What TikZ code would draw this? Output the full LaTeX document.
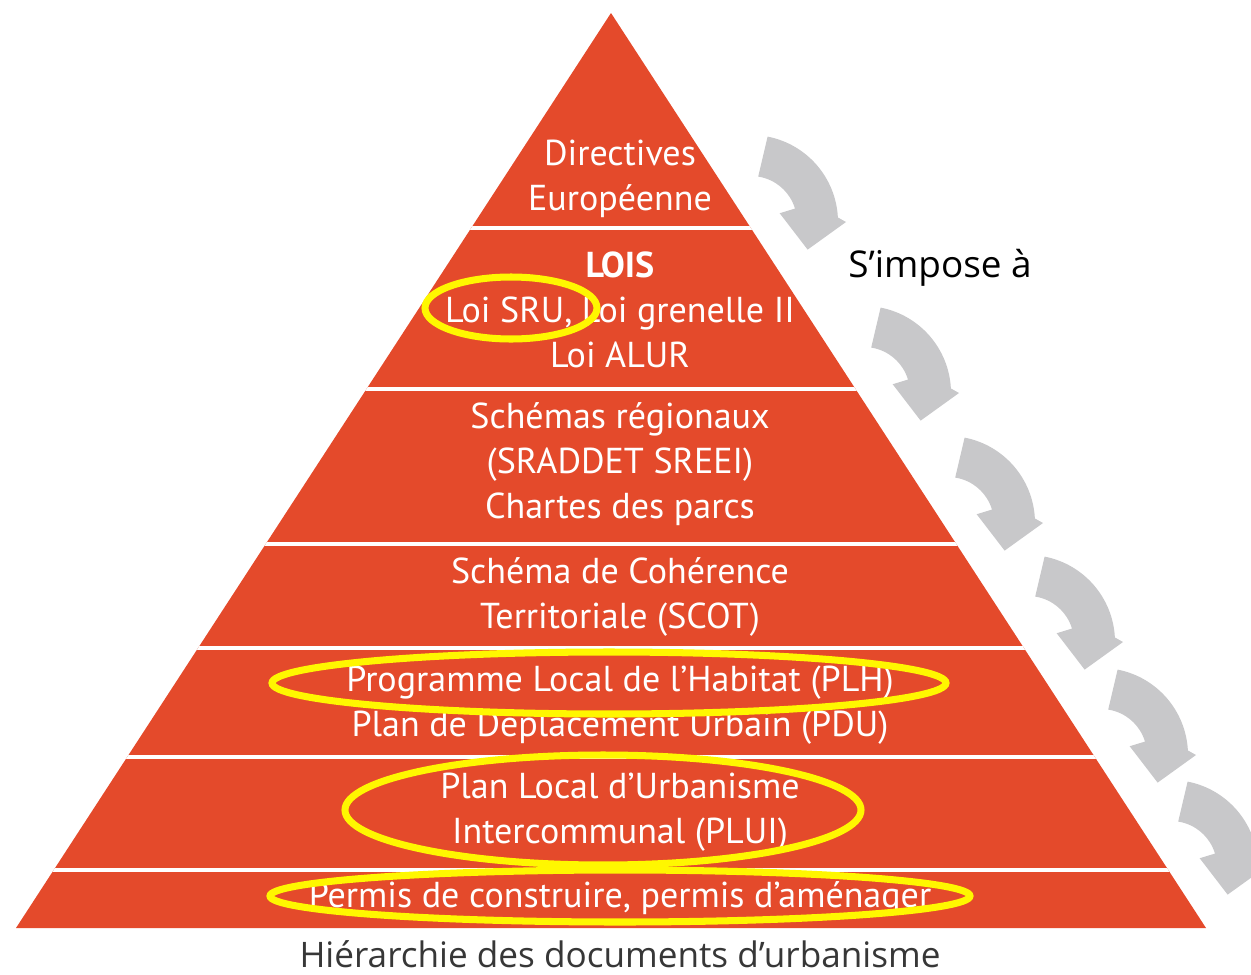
\documentclass[tikz,border=0pt]{standalone}
\usepackage{fontspec}
\setmainfont{PT Sans}
\newfontfamily\capfont{Open Sans}
\definecolor{pyr}{RGB}{228,74,43}
\definecolor{arr}{RGB}{200,200,202}
\definecolor{hl}{RGB}{255,247,0}
\definecolor{capgrey}{RGB}{55,55,55}
\begin{document}
\begin{tikzpicture}[x=0.02cm,y=-0.02cm,
  band/.style={text=white, align=center, inner sep=0pt, font=\fontsize{20.5}{25.6}\selectfont},
  hilite/.style={draw=hl, line width=4pt},
  sep/.style={white, line width=2.6pt}]
\useasboundingbox (0,0) rectangle (1251,974);
\clip (0,0) rectangle (1251,974);
\coordinate (apex) at (611,13);
\coordinate (bl) at (16,928);
\coordinate (br) at (1206,928);
\fill[pyr] (apex) -- (br) -- (bl) -- cycle;
\begin{scope}
  \clip (apex) -- (br) -- (bl) -- cycle;
  \foreach \yy in {228,389,544,648,757,870} \draw[sep] (0,\yy) -- (1251,\yy);
\end{scope}
\foreach \cx/\cy in {751/222, 864/393, 948/523, 1028/642, 1101/755, 1171/867} {
  \fill[arr, shift={(\cx,\cy)}] (-79:87) arc[start angle=-79, end angle=-3, radius=87]
     -- (0:95) -- (26:63) -- (-17:30) -- (-17:46)
     arc[start angle=-17, end angle=-81, radius=46] -- cycle;
}
\node[band] (t1) at (620,179) {Directives\\Européenne};
\node[band] (t2) at (620,310) {\textbf{LOIS}\\Loi SRU, Loi grenelle II\\Loi ALUR};
\node[band] (t3) at (620,464) {Schémas régionaux\\(SRADDET SREEI)\\Chartes des parcs};
\node[band] (t4) at (620,597) {Schéma de Cohérence\\Territoriale (SCOT)};
\node[band] (t5) at (620,705) {Programme Local de l’Habitat (PLH)\\Plan de Déplacement Urbain (PDU)};
\node[band] (t6) at (620,812) {Plan Local d’Urbanisme\\Intercommunal (PLUI)};
\node[band] (t7) at (620,898) {Permis de construire, permis d’aménager};
\node[text=capgrey, inner sep=0pt, font=\capfont\fontsize{20}{24}\selectfont] (cap) at (620,954) {Hiérarchie des documents d’urbanisme};
\node[text=black, inner sep=0pt, font=\capfont\fontsize{21}{24}\selectfont] (imp) at (940,268) {S’impose à};
\draw[hilite] (511,308) ellipse [x radius=86, y radius=31];
\draw[hilite] (609,683) ellipse [x radius=337, y radius=31];
\draw[hilite] (603,810) ellipse [x radius=258, y radius=55];
\draw[hilite] (620,896) ellipse [x radius=350, y radius=26];
\end{tikzpicture}
\end{document}
